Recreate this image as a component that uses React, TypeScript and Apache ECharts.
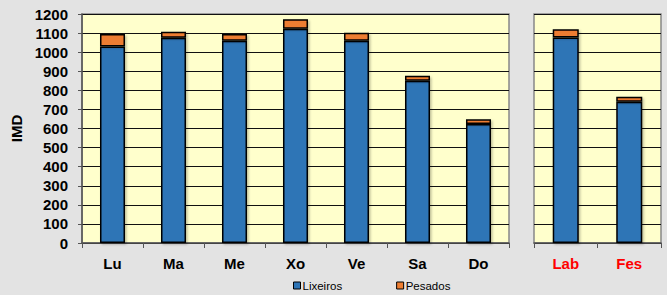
import React, { useEffect, useRef } from "react";
import * as echarts from "echarts";

const weekCategories = ["Lu", "Ma", "Me", "Xo", "Ve", "Sa", "Do"];
const weekLixeiros = [1030, 1075, 1060, 1123, 1060, 850, 623];
const weekPesados = [65, 32, 35, 50, 42, 27, 25];

const dayTypeCategories = ["Lab", "Fes"];
const dayTypeLixeiros = [1077, 740];
const dayTypePesados = [43, 27];

const yTicks = { min: 0, max: 1200, interval: 100 };

const BLUE = "#2e75b6";
const ORANGE = "#ed7d31";
const FONT = "Liberation Sans, Arial, sans-serif";

export default function App() {
  const ref = useRef<HTMLDivElement>(null);
  useEffect(() => {
    document.body.style.margin = "0";
    const chart = echarts.init(ref.current!, null, { renderer: "svg" });
    const barItem = (color: string) => ({
      color,
      borderColor: "#000",
      borderWidth: 1.5,
      shadowColor: "rgba(0,0,0,0.25)",
      shadowBlur: 2,
      shadowOffsetX: 1.5,
      shadowOffsetY: 1.5,
    });
    const gridCommon = {
      top: 14,
      height: 229,
      show: true,
      backgroundColor: "#ffffcc",
      borderColor: "#888",
      borderWidth: 1.5,
    };
    const xAxisCommon = {
      type: "category" as const,
      axisLine: { lineStyle: { color: "#555", width: 1.5 } },
      axisTick: { show: true, length: 5, lineStyle: { color: "#555" } },
      axisLabel: {
        fontFamily: FONT,
        fontWeight: "bold" as const,
        fontSize: 15,
        color: "#000",
        margin: 13,
      },
    };
    const yAxisCommon = {
      type: "value" as const,
      min: yTicks.min,
      max: yTicks.max,
      interval: yTicks.interval,
      splitLine: { show: true, lineStyle: { color: "#111", width: 1 } },
    };
    chart.setOption({
      animation: false,
      backgroundColor: "#e3e3e3",
      grid: [
        { ...gridCommon, left: 82, width: 427 },
        { ...gridCommon, left: 534, width: 127 },
      ],
      legend: {
        top: 278,
        left: 288,
        padding: [1, 5, 1, 5],
        itemWidth: 7,
        itemHeight: 7,
        itemGap: 54,
        icon: "rect",
        textStyle: {
          fontFamily: FONT,
          fontSize: 11.5,
          lineHeight: 13,
          color: "#000",
          padding: [0, 0, 0, -3],
        },
        data: [
          { name: "Lixeiros", itemStyle: { color: BLUE, borderColor: "#000", borderWidth: 1 } },
          { name: "Pesados", itemStyle: { color: ORANGE, borderColor: "#000", borderWidth: 1 } },
        ],
      },
      xAxis: [
        { ...xAxisCommon, gridIndex: 0, data: weekCategories },
        {
          ...xAxisCommon,
          gridIndex: 1,
          data: dayTypeCategories,
          axisLabel: { ...xAxisCommon.axisLabel, color: "#ff0000" },
        },
      ],
      yAxis: [
        {
          ...yAxisCommon,
          gridIndex: 0,
          name: "IMD",
          nameLocation: "middle",
          nameGap: 48,
          nameTextStyle: {
            fontFamily: FONT,
            fontWeight: "bold",
            fontSize: 15,
            color: "#000",
          },
          axisLine: { show: true, lineStyle: { color: "#555", width: 1.5 } },
          axisTick: { show: true, length: 4, lineStyle: { color: "#555" } },
          axisLabel: {
            fontFamily: FONT,
            fontWeight: "bold",
            fontSize: 15,
            color: "#000",
            margin: 14,
            formatter: (v: number) => String(v),
          },
        },
        {
          ...yAxisCommon,
          gridIndex: 1,
          axisLine: { show: false },
          axisTick: { show: false },
          axisLabel: { show: false },
        },
      ],
      series: [
        {
          name: "Lixeiros",
          type: "bar",
          xAxisIndex: 0,
          yAxisIndex: 0,
          stack: "week",
          barWidth: "41%",
          data: weekLixeiros,
          itemStyle: barItem(BLUE),
        },
        {
          name: "Pesados",
          type: "bar",
          xAxisIndex: 0,
          yAxisIndex: 0,
          stack: "week",
          barWidth: "41%",
          data: weekPesados,
          itemStyle: barItem(ORANGE),
        },
        {
          name: "Lixeiros",
          type: "bar",
          xAxisIndex: 1,
          yAxisIndex: 1,
          stack: "daytype",
          barWidth: "41%",
          data: dayTypeLixeiros,
          itemStyle: barItem(BLUE),
        },
        {
          name: "Pesados",
          type: "bar",
          xAxisIndex: 1,
          yAxisIndex: 1,
          stack: "daytype",
          barWidth: "41%",
          data: dayTypePesados,
          itemStyle: barItem(ORANGE),
        },
      ],
    });
    return () => chart.dispose();
  }, []);
  return <div ref={ref} style={{ width: 667, height: 295 }} />;
}
